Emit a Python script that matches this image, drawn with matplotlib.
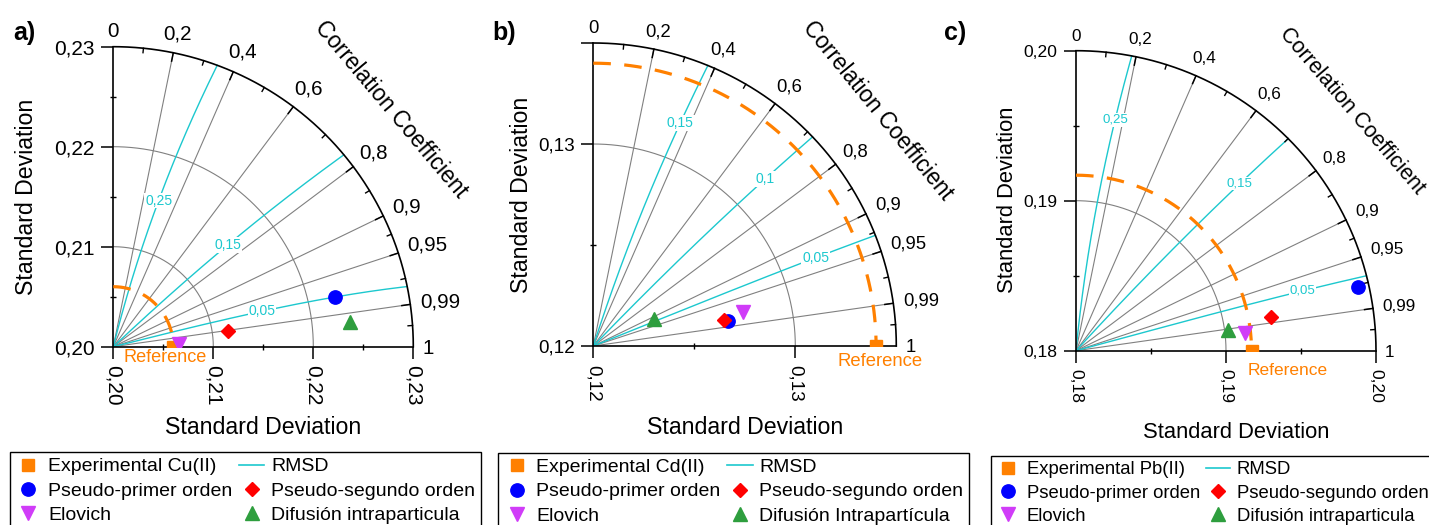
import numpy as np
import matplotlib
matplotlib.use("Agg")
import matplotlib.pyplot as plt
from matplotlib.lines import Line2D
from matplotlib.textpath import TextPath
from matplotlib.font_manager import FontProperties

plt.rcParams["font.family"] = ["Liberation Sans", "DejaVu Sans"]

# ---------------- data ----------------
corr_ticks = [0.0, 0.2, 0.4, 0.6, 0.8, 0.9, 0.95, 0.99, 1.0]
corr_tick_labels = ["0", "0,2", "0,4", "0,6", "0,8", "0,9", "0,95", "0,99", "1"]
corr_grid = [0.2, 0.4, 0.6, 0.8, 0.9, 0.95, 0.99]

# model order: pseudo-primer, pseudo-segundo, Elovich, difusion
model_names = ["Pseudo-primer orden", "Pseudo-segundo orden", "Elovich"]

# Cu(II)
cu_exp_label = "Experimental Cu(II)"
cu_diff_label = "Difusión intraparticula"
cu_ref_std = 0.2060
cu_std = [0.2227, 0.2116, 0.2066, 0.2238]
cu_corr = [0.9761, 0.9911, 0.9993, 0.9945]
cu_rmsd = [0.05, 0.15, 0.25]
cu_rmsd_labels = ["0,05", "0,15", "0,25"]
cu_std_range = (0.20, 0.23)
cu_std_ticks = [0.20, 0.21, 0.22, 0.23]
cu_std_tick_labels = ["0,20", "0,21", "0,22", "0,23"]
cu_std_minor = [0.205, 0.215, 0.225]

# Cd(II)
cd_exp_label = "Experimental Cd(II)"
cd_diff_label = "Difusión Intrapartícula"
cd_ref_std = 0.1340
cd_std = [0.1268, 0.1266, 0.1276, 0.1233]
cd_corr = [0.9829, 0.9804, 0.9747, 0.9138]
cd_rmsd = [0.05, 0.10, 0.15]
cd_rmsd_labels = ["0,05", "0,1", "0,15"]
cd_std_range = (0.12, 0.135)
cd_std_ticks = [0.12, 0.13]
cd_std_tick_labels = ["0,12", "0,13"]
cd_std_minor = [0.125, 0.135]

# Pb(II)
pb_exp_label = "Experimental Pb(II)"
pb_diff_label = "Difusión intraparticula"
pb_ref_std = 0.1917
pb_std = [0.1993, 0.1932, 0.1913, 0.1902]
pb_corr = [0.9757, 0.9852, 0.9944, 0.9906]
pb_rmsd = [0.05, 0.15, 0.25]
pb_rmsd_labels = ["0,05", "0,15", "0,25"]
pb_std_range = (0.18, 0.20)
pb_std_ticks = [0.18, 0.19, 0.20]
pb_std_tick_labels = ["0,18", "0,19", "0,20"]
pb_std_minor = [0.185, 0.195]

# ---------------- styles ----------------
W, H, DPI = 1429, 525, 100
ORANGE = "#FF8000"
CYAN = "#1CC8CE"
GRID = "#808080"
model_styles = [
    dict(marker="o", color="#0000FF", ms=9.6),
    dict(marker="D", color="#FF0000", ms=7.6),
    dict(marker="v", color="#D03CF8", ms=10.5),
    dict(marker="^", color="#2E9E3E", ms=10.5),
]

panels = [
    dict(tag="a)", tag_xy=(24, 33), origin=(113.3, 346.7), radius_px=300,
         std_range=cu_std_range, ticks=cu_std_ticks, tick_labels=cu_std_tick_labels,
         minor=cu_std_minor, ref=cu_ref_std, std=cu_std, corr=cu_corr,
         rmsd=cu_rmsd, rmsd_labels=cu_rmsd_labels, rmsd_frac=0.51,
         exp_label=cu_exp_label, diff_label=cu_diff_label,
         fs_tick=15, fs_corr=14.8, fs_title=16.7, fs_cc=16.3, fs_rmsd=10, fs_ref=13.1, fs_leg=14,
         ytitle_xy=(27, 197), xtitle_xy=(263, 428), cc=(1.217, 40.6),
         ref_text_off=(-8, 11), legend_xy=(10, 452), extra_ytick=None),
    dict(tag="b)", tag_xy=(504, 33), origin=(593.3, 346.0), radius_px=303,
         std_range=cd_std_range, ticks=cd_std_ticks, tick_labels=cd_std_tick_labels,
         minor=cd_std_minor, ref=cd_ref_std, std=cd_std, corr=cd_corr,
         rmsd=cd_rmsd, rmsd_labels=cd_rmsd_labels, rmsd_frac=0.79,
         exp_label=cd_exp_label, diff_label=cd_diff_label,
         fs_tick=13.6, fs_corr=13.3, fs_title=16.7, fs_cc=16.3, fs_rmsd=10, fs_ref=13.3, fs_leg=14,
         ytitle_xy=(522, 195), xtitle_xy=(745, 428), cc=(1.218, 39.7),
         ref_text_off=(4, 16), legend_xy=(498.3, 452.7), extra_ytick=0.135),
    dict(tag="c)", tag_xy=(955, 33), origin=(1076.0, 350.7), radius_px=300,
         std_range=pb_std_range, ticks=pb_std_ticks, tick_labels=pb_std_tick_labels,
         minor=pb_std_minor, ref=pb_ref_std, std=pb_std, corr=pb_corr,
         rmsd=pb_rmsd, rmsd_labels=pb_rmsd_labels, rmsd_frac=0.78,
         exp_label=pb_exp_label, diff_label=pb_diff_label,
         fs_tick=12.6, fs_corr=12.3, fs_title=15.8, fs_cc=15.5, fs_rmsd=9.5, fs_ref=12.5, fs_leg=13.3,
         ytitle_xy=(1008, 200), xtitle_xy=(1236, 433), cc=(1.22, 41.0),
         ref_text_off=(36, 20), legend_xy=(990.7, 455.7), extra_ytick=None),
]

fig = plt.figure(figsize=(W / DPI, H / DPI), dpi=DPI)
FP = FontProperties(family="Liberation Sans")


def glyph_size_px(s, size):
    bb = TextPath((0, 0), s, size=size, prop=FP).get_extents()
    return bb.width * DPI / 72.0, bb.height * DPI / 72.0


def draw_taylor(p):
    ox, oy = p["origin"]
    rpx = p["radius_px"]
    base, top = p["std_range"]
    span = top - base
    ppu = rpx / span  # pixels per std unit

    ax = fig.add_axes([ox / W, 1 - oy / H, rpx / W, rpx / H])
    ax.set_xlim(base, top)
    ax.set_ylim(base, top)
    ax.patch.set_visible(False)
    for s in ("top", "right"):
        ax.spines[s].set_visible(False)
    for s in ("left", "bottom"):
        ax.spines[s].set_linewidth(1.2)

    # standard deviation axes
    ax.set_xticks(p["ticks"], p["tick_labels"])
    yt = list(p["ticks"])
    ytl = list(p["tick_labels"])
    if p["extra_ytick"] is not None:
        yt.append(p["extra_ytick"])
        ytl.append("")
    ax.set_yticks(yt, ytl)
    minor_x = [m for m in p["minor"] if m < top - 1e-9]
    ax.set_xticks(minor_x, minor=True)
    ax.set_yticks([m for m in p["minor"] if m not in yt], minor=True)
    ax.tick_params(which="major", direction="out", length=8.5, width=1.1,
                   labelsize=p["fs_tick"], pad=5)
    ax.tick_params(which="minor", direction="inout", length=5, width=1.0)
    ax.tick_params(axis="x", labelrotation=-90)

    def xy(s, theta):
        r = np.asarray(s, dtype=float) - base
        return base + r * np.cos(theta), base + r * np.sin(theta)

    th = np.linspace(0, np.pi / 2, 300)

    # outer arc and inner std arcs
    x, y = xy(top, th)
    ax.plot(x, y, color="black", lw=1.2, clip_on=False, zorder=4)
    for s in p["ticks"]:
        if base < s < top - 1e-9:
            x, y = xy(s, th)
            ax.plot(x, y, color=GRID, lw=0.8, zorder=1)

    # correlation rays
    for c in corr_grid:
        t = np.arccos(c)
        x, y = xy([base, top], t)
        ax.plot(x, y, color=GRID, lw=0.8, zorder=1)

    # ticks on the correlation arc
    angs = [np.arccos(c) for c in corr_ticks]
    for t in angs[1:-1]:
        x, y = xy([top, top - 8.5 / ppu], t)
        ax.plot(x, y, color="black", lw=1.1, zorder=4, clip_on=False)
    for a0, a1 in zip(angs[:-1], angs[1:]):
        t = 0.5 * (a0 + a1)
        x, y = xy([top, top - 4.5 / ppu], t)
        ax.plot(x, y, color="black", lw=1.0, zorder=4, clip_on=False)

    # correlation labels
    for c, lab in zip(corr_ticks, corr_tick_labels):
        t = np.arccos(c)
        w, h = glyph_size_px(lab, p["fs_corr"])
        half = abs(np.cos(t)) * w / 2 + abs(np.sin(t)) * h / 2
        r = top + (10 + half) / ppu
        x, y = xy(r, t)
        ax.text(x, y, lab, fontsize=p["fs_corr"], ha="center", va="center_baseline",
                clip_on=False)

    # axis title along the arc
    rr, deg = p["cc"]
    x, y = xy(base + rr * span, np.radians(deg))
    ax.text(x, y, "Correlation Coefficient", fontsize=p["fs_cc"], rotation=-(90 - deg) - 0.5,
            rotation_mode="anchor", ha="center", va="center", clip_on=False)

    # RMSD contours around the reference point
    ref = p["ref"]
    s_line = np.linspace(base, top, 600)
    for e, lab in zip(p["rmsd"], p["rmsd_labels"]):
        cc = (s_line ** 2 + ref ** 2 - e ** 2) / (2 * s_line * ref)
        ok = np.abs(cc) <= 1
        t = np.arccos(cc[ok])
        x, y = xy(s_line[ok], t)
        ax.plot(x, y, color=CYAN, lw=1.0, zorder=2)
        s_lab = base + p["rmsd_frac"] * span
        c_lab = (s_lab ** 2 + ref ** 2 - e ** 2) / (2 * s_lab * ref)
        x, y = xy(s_lab, np.arccos(c_lab))
        ax.text(x, y, lab, color=CYAN, fontsize=p["fs_rmsd"], ha="center", va="center",
                zorder=3, bbox=dict(facecolor="white", edgecolor="none", pad=0.6))

    # reference standard deviation arc
    th_ref = np.linspace(np.pi / 2, 0, 300)
    x, y = xy(ref, th_ref)
    ax.plot(x, y, color=ORANGE, lw=2.3, ls=(0, (5.5, 4.2)), zorder=3)

    # observed (reference) point
    x, y = xy(ref, 0.0)
    ax.plot([x], [y], ls="none", marker="s", ms=8.6, color=ORANGE, zorder=6, clip_on=True)
    ax.annotate("Reference", (x, y), xytext=(p["ref_text_off"][0] * 0.72,
                                             -p["ref_text_off"][1] * 0.72),
                textcoords="offset points", ha="center", va="center",
                color=ORANGE, fontsize=p["fs_ref"], annotation_clip=False)

    # models
    for s, c, st in zip(p["std"], p["corr"], model_styles):
        x, y = xy(s, np.arccos(c))
        ax.plot([x], [y], ls="none", marker=st["marker"], ms=st["ms"],
                color=st["color"], mec=st["color"], zorder=7)

    # titles
    fig.text(p["ytitle_xy"][0] / W, 1 - p["ytitle_xy"][1] / H, "Standard Deviation",
             rotation=90, ha="center", va="center", fontsize=p["fs_title"])
    fig.text(p["xtitle_xy"][0] / W, 1 - p["xtitle_xy"][1] / H, "Standard Deviation",
             ha="center", va="center", fontsize=p["fs_title"])
    fig.text(p["tag_xy"][0] / W, 1 - p["tag_xy"][1] / H, p["tag"], ha="center",
             va="center", fontsize=18, fontweight="bold")

    # legend
    leg_exp = Line2D([], [], ls="none", marker="s", ms=8.6, color=ORANGE)
    leg_rmsd = Line2D([], [], color=CYAN, lw=1.2)
    leg_models = [Line2D([], [], ls="none", marker=st["marker"], ms=st["ms"],
                         color=st["color"]) for st in model_styles]
    hl = [leg_exp, leg_models[0], leg_models[2], leg_rmsd, leg_models[1], leg_models[3]]
    ll = [p["exp_label"], model_names[0], model_names[2], "RMSD", model_names[1],
          p["diff_label"]]
    lx, ly = p["legend_xy"]
    leg = ax.legend(hl, ll, ncol=2, loc="upper left",
                    bbox_to_anchor=(lx / W, 1 - ly / H), bbox_transform=fig.transFigure,
                    fontsize=p["fs_leg"], frameon=True, fancybox=False, framealpha=1,
                    edgecolor="black", borderaxespad=0, borderpad=0.3,
                    handlelength=1.3, handletextpad=0.35, columnspacing=0.35,
                    labelspacing=0.34, numpoints=1)
    leg.get_frame().set_linewidth(1.0)


for p in panels:
    draw_taylor(p)

fig.savefig("out.png", dpi=DPI)
